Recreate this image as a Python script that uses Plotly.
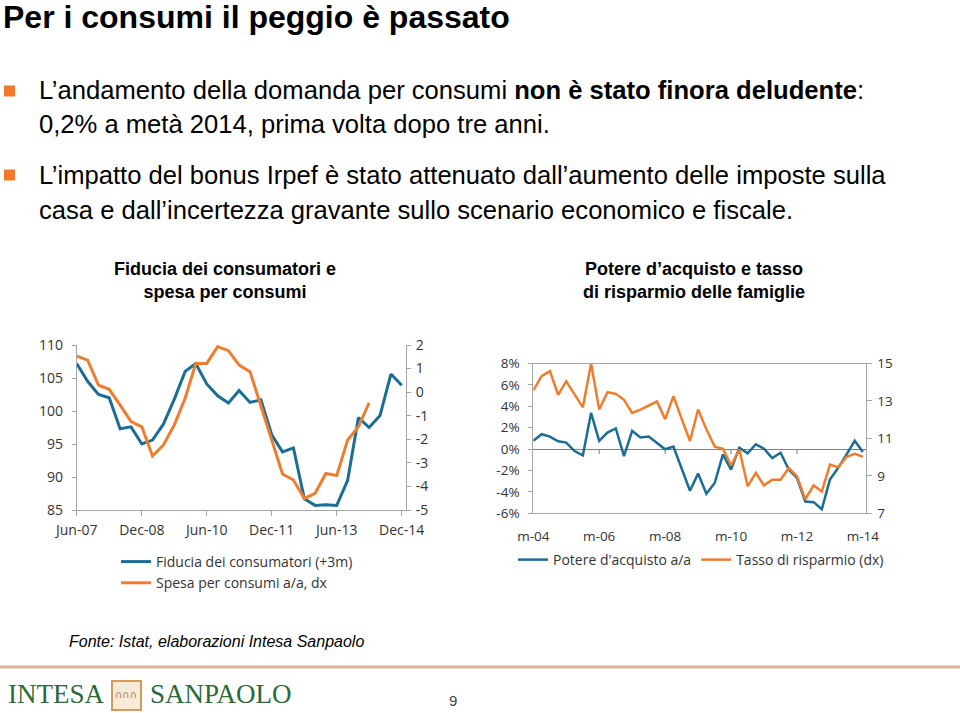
import pandas as pd
import plotly.graph_objects as go

# ---------------- Data ----------------
# Left chart: quarterly from Jun-07
left_start = "2007-06-01"
fiducia = [107.2, 104.5, 102.5, 102.0, 97.3, 97.6, 95.0, 95.6, 98.0, 101.8,
           106.0, 107.2, 104.1, 102.3, 101.2, 103.1, 101.3, 101.7, 96.4, 93.8,
           94.4, 86.7, 85.7, 85.8, 85.7, 89.5, 99.0, 97.5, 99.3, 105.6, 103.9]
spesa = [1.53, 1.36, 0.30, 0.12, -0.55, -1.25, -1.47, -2.71, -2.24, -1.39,
         -0.26, 1.22, 1.22, 1.93, 1.76, 1.15, 0.87, -0.55, -2.03, -3.47,
         -3.73, -4.51, -4.29, -3.45, -3.54, -2.03, -1.47, -0.45]
left_tickvals = ["2007-06-01", "2008-12-01", "2010-06-01", "2011-12-01", "2013-06-01", "2014-12-01"]
left_ticktext = ["Jun-07", "Dec-08", "Jun-10", "Dec-11", "Jun-13", "Dec-14"]
left_y_ticks = [85, 90, 95, 100, 105, 110]
left_y2_ticks = [-5, -4, -3, -2, -1, 0, 1, 2]
left_y2_text = ["-5", "-4", "-3", "-2", "-1", "0", "1", "2"]

# Right chart: quarterly from m-04
right_start = "2004-03-01"
potere = [0.77, 1.39, 1.17, 0.73, 0.61, -0.18, -0.59, 3.38, 0.77, 1.55,
          1.93, -0.65, 1.71, 1.08, 1.17, 0.61, -0.02, 0.23, -1.91, -3.89,
          -2.29, -4.17, -3.17, -0.49, -1.91, 0.14, -0.40, 0.45, 0.04, -0.84,
          -0.34, -1.91, -2.70, -4.90, -4.96, -5.62, -2.85, -1.75, -0.49, 0.77,
          -0.27]
risparmio = [13.56, 14.33, 14.59, 13.33, 14.05, 13.38, 12.66, 15.0, 12.54, 13.47,
             13.38, 13.06, 12.36, 12.54, 12.75, 12.97, 12.03, 13.26, 12.03, 10.86,
             12.54, 11.49, 10.56, 10.45, 9.55, 10.41, 8.44, 9.16, 8.49, 8.79,
             8.79, 9.42, 8.97, 7.75, 8.49, 8.17, 9.60, 9.46, 10.02, 10.18,
             10.02]
right_tickvals = ["2004-03-01", "2006-03-01", "2008-03-01", "2010-03-01", "2012-03-01", "2014-03-01"]
right_ticktext = ["m-04", "m-06", "m-08", "m-10", "m-12", "m-14"]
right_y3_ticks = [-6, -4, -2, 0, 2, 4, 6, 8]
right_y3_text = ["-6%", "-4%", "-2%", "0%", "2%", "4%", "6%", "8%"]
right_y4_ticks = [7, 9, 11, 13, 15]

# ---------------- Styling ----------------
W, H = 960, 713
BLUE = "#1b6d95"
ORANGE = "#ee7d2f"
AXIS = "#a6a6a6"
TXT = "#333333"
CF = "Open Sans"
SF = "Liberation Sans"


def px(x):
    return x / W


def py(y):
    return 1 - y / H


x_left = pd.date_range(left_start, periods=len(fiducia), freq="3MS")
x_left_s = pd.date_range(left_start, periods=len(spesa), freq="3MS")
x_right = pd.date_range(right_start, periods=len(potere), freq="3MS")

fig = go.Figure()
fig.add_trace(go.Scatter(x=x_left, y=fiducia, mode="lines", name="Fiducia dei consumatori (+3m)",
                         line=dict(color=BLUE, width=3), xaxis="x", yaxis="y", legend="legend"))
fig.add_trace(go.Scatter(x=x_left_s, y=spesa, mode="lines", name="Spesa per consumi a/a, dx",
                         line=dict(color=ORANGE, width=3), xaxis="x", yaxis="y2", legend="legend"))
fig.add_trace(go.Scatter(x=x_right, y=potere, mode="lines", name="Potere d'acquisto a/a",
                         line=dict(color=BLUE, width=2.5), xaxis="x3", yaxis="y3", legend="legend2"))
fig.add_trace(go.Scatter(x=x_right, y=risparmio, mode="lines", name="Tasso di risparmio (dx)",
                         line=dict(color=ORANGE, width=2.5), xaxis="x3", yaxis="y4", legend="legend2"))

tickfont = dict(family=CF, size=14, color=TXT)
tickfont_r = dict(family=CF, size=13.5, color=TXT)

fig.update_layout(
    template="none",
    width=W, height=H,
    margin=dict(l=0, r=0, t=0, b=0, autoexpand=False),
    paper_bgcolor="white", plot_bgcolor="rgba(0,0,0,0)",
    xaxis=dict(domain=[px(76.7), px(406)], anchor="y", type="date", automargin=False,
               range=["2007-06-01", "2015-01-06"], tickvals=left_tickvals, ticktext=left_ticktext,
               ticks="outside", ticklen=5, tickcolor=AXIS, showline=True, linecolor=AXIS,
               showgrid=False, zeroline=False, tickfont=tickfont, ticklabelstandoff=2),
    yaxis=dict(domain=[py(510), py(345)], anchor="x", range=[85, 110], tickvals=left_y_ticks,
               automargin=False,
               ticks="outside", ticklen=4, tickcolor=AXIS, showline=True, linecolor=AXIS,
               showgrid=False, zeroline=False, tickfont=tickfont, ticklabelstandoff=6),
    yaxis2=dict(overlaying="y", side="right", anchor="x", range=[-5, 2], automargin=False,
                tickvals=left_y2_ticks, ticktext=left_y2_text,
                ticks="outside", ticklen=4, tickcolor=AXIS, showline=True, linecolor=AXIS,
                showgrid=False, zeroline=False, tickfont=tickfont, ticklabelstandoff=2),
    xaxis3=dict(domain=[px(533.3), px(865.5)], anchor="y3", type="date", automargin=False,
                range=["2004-03-01", "2014-03-30"], tickvals=right_tickvals, ticktext=right_ticktext,
                ticks="", showline=True, mirror=True, linecolor=AXIS,
                showgrid=False, zeroline=False, tickfont=tickfont_r, ticklabelstandoff=10),
    yaxis3=dict(domain=[py(513.3), py(363.5)], anchor="x3", range=[-6, 8], automargin=False,
                tickvals=right_y3_ticks, ticktext=right_y3_text,
                ticks="outside", ticklen=4, tickcolor=AXIS, showline=True, linecolor=AXIS,
                showgrid=False, zeroline=True, zerolinecolor="#7f7f7f", zerolinewidth=1,
                tickfont=tickfont_r, ticklabelstandoff=6),
    yaxis4=dict(overlaying="y3", side="right", anchor="x3", range=[7, 15], tickvals=right_y4_ticks,
                automargin=False,
                ticks="outside", ticklen=5, tickcolor=AXIS, showline=True, linecolor=AXIS,
                showgrid=False, zeroline=False, tickfont=tickfont_r, ticklabelstandoff=3),
    legend=dict(x=px(116), y=py(546), xanchor="left", yanchor="top", orientation="v",
                font=dict(family=CF, size=14, color=TXT), bgcolor="rgba(0,0,0,0)",
                tracegroupgap=0, borderwidth=0),
    legend2=dict(x=px(513), y=py(560), xanchor="left", yanchor="middle", orientation="h",
                 font=dict(family=CF, size=14, color=TXT), bgcolor="rgba(0,0,0,0)", borderwidth=0),
    showlegend=True,
)

# tick marks on the zero line of the right chart
for tv in right_tickvals[1:-1]:
    fig.add_shape(type="line", xref="x3", yref="y3", x0=tv, x1=tv,
                  ysizemode="pixel", yanchor=0, y0=-5, y1=0,
                  line=dict(color="#7f7f7f", width=1))

ann = []
# Title
ann.append(dict(text="<b>Per i consumi il peggio è passato</b>", x=px(1), y=py(17),
                xanchor="left", yanchor="middle", font=dict(family=SF, size=32, color="black")))
# Bullets
bullet_lines = [
    ("L’andamento della domanda per consumi <b>non è stato finora deludente</b>:", 90),
    ("0,2% a metà 2014, prima volta dopo tre anni.", 124),
    ("L’impatto del bonus Irpef è stato attenuato dall’aumento delle imposte sulla", 175),
    ("casa e dall’incertezza gravante sullo scenario economico e fiscale.", 210),
]
for t, yy in bullet_lines:
    ann.append(dict(text=t, x=px(37), y=py(yy), xanchor="left", yanchor="middle",
                    font=dict(family=SF, size=25.6, color="black")))
# Chart titles
ann.append(dict(text="<b>Fiducia dei consumatori e<br>spesa per consumi</b>", x=px(225), y=py(280),
                xanchor="center", yanchor="middle", align="center",
                font=dict(family=SF, size=18, color="black")))
ann.append(dict(text="<b>Potere d’acquisto e tasso<br>di risparmio delle famiglie</b>", x=px(694), y=py(280),
                xanchor="center", yanchor="middle", align="center",
                font=dict(family=SF, size=18, color="black")))
# Source
ann.append(dict(text="<i>Fonte: Istat, elaborazioni Intesa Sanpaolo</i>", x=px(67), y=py(641),
                xanchor="left", yanchor="middle", font=dict(family=SF, size=16, color="black")))
# Logo text
ann.append(dict(text="INTESA", x=px(6), y=py(694), xanchor="left", yanchor="middle",
                font=dict(family="Liberation Serif", size=27, color="#2b6a37")))
ann.append(dict(text="SANPAOLO", x=px(148), y=py(694), xanchor="left", yanchor="middle",
                font=dict(family="Liberation Serif", size=27, color="#2b6a37")))
ann.append(dict(text="∩∩∩", x=px(126), y=py(694), xanchor="center", yanchor="middle",
                font=dict(family="DejaVu Sans", size=10, color="#b07a4a")))
ann.append(dict(text="9", x=px(453), y=py(700), xanchor="center", yanchor="middle",
                font=dict(family=SF, size=15, color="#444444")))
fig.update_layout(annotations=[dict(a, xref="paper", yref="paper", showarrow=False) for a in ann])

# Decorative shapes: bullets, footer rule, logo box
for yy in (91, 175):
    fig.add_shape(type="rect", xref="paper", yref="paper",
                  x0=px(4), x1=px(15), y0=py(yy + 5.5), y1=py(yy - 5.5),
                  fillcolor="#f07a28", line=dict(width=0))
fig.add_shape(type="line", xref="paper", yref="paper", x0=0, x1=1, y0=py(667), y1=py(667),
              line=dict(color="#d8b596", width=3))
fig.add_shape(type="rect", xref="paper", yref="paper", x0=px(112), x1=px(141), y0=py(710), y1=py(681),
              fillcolor="#f6ead8", line=dict(color="#d49a5c", width=2))

fig.write_html("out.html", config={"displayModeBar": False},
               post_script="document.body.style.margin='0px';document.body.style.overflow='hidden';")
